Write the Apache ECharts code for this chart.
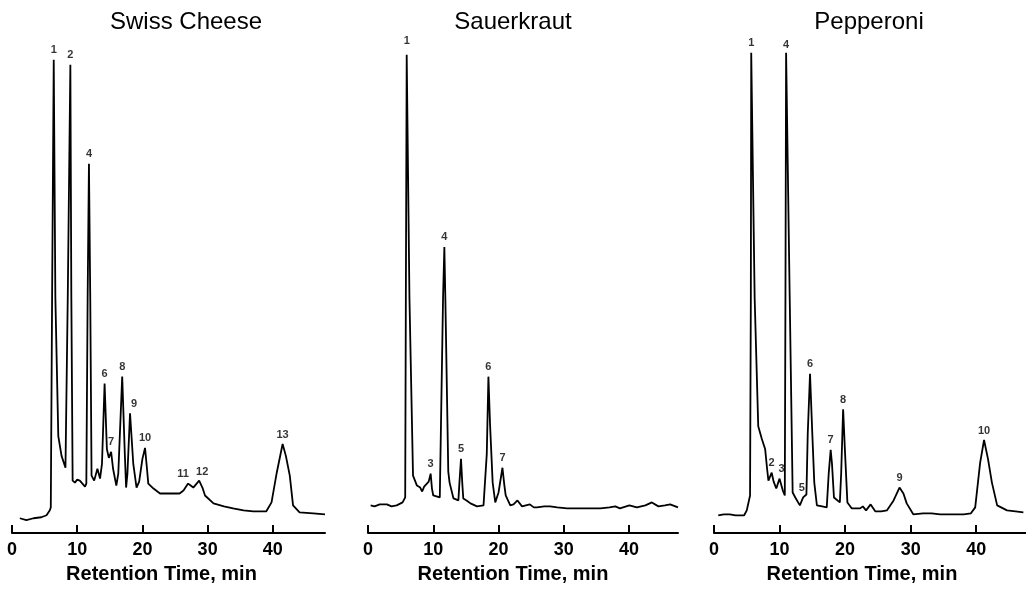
<!DOCTYPE html>
<html>
<head>
<meta charset="UTF-8">
<title>Chromatograms</title>
<script src="https://cdn.jsdelivr.net/npm/echarts@6/dist/echarts.min.js"></script>
<style>
body{
margin:0;
background:#fff;
}
#chart{
width:1026px;
height:589px;
}
</style>
</head>
<body>
<div id="chart"></div>
<script>

const titles = ["Swiss Cheese","Sauerkraut","Pepperoni"]

const xTicks = [0,10,20,30,40]

// [retention time (min), detector signal]
const swissTrace = [
 [1.2,15],[2.2,13],[3.3,15],[4.5,16],[5.3,18],[5.8,23],[5.95,26],[6.15,238],[6.4,478],[6.65,238],[7.1,98],[7.6,78],[8.2,66],
 [8.55,238],[8.95,473],[9.1,238],[9.3,53],[9.65,51],[10.0,54],[10.4,53],[10.8,50],[11.2,47],[11.4,50],[11.6,238],[11.8,373],
 [12.0,238],[12.2,58],[12.6,53],[13.1,65],[13.5,55],[13.8,70],[14.2,151],[14.55,85],[14.85,76],[15.2,82],[15.5,65],[16.0,48],
 [16.3,60],[16.9,158],[17.3,80],[17.5,46],[17.7,60],[18.1,121],[18.6,70],[19.1,46],[19.5,52],[20.0,75],[20.4,86],[20.7,65],
 [20.9,50],[21.7,45],[22.7,40],[24.0,40],[25.7,40],[26.3,43],[27.0,50],[27.4,48],[27.8,46],[28.7,53],[29.2,46],[29.6,38],
 [30.9,30],[32.5,27],[33.9,25],[35.5,23],[37.0,22],[39.0,22],[39.8,31],[40.6,61],[41.5,90],[42.0,78],[42.6,58],[43.1,28],
 [44.1,21],[46.2,20],[48.0,19]
]

const sauerTrace = [
 [0.4,28],[1.0,27],[1.8,29],[2.9,29],[3.6,27],[4.4,28],[5.3,31],[5.7,36],[5.8,238],[5.93,483],[6.35,238],[6.9,58],[7.5,48],
 [8.0,46],[8.3,42],[8.6,47],[8.9,47],[9.3,52],[9.6,60],[9.8,45],[10.0,38],[11.0,36],[11.3,38],[11.5,238],[11.7,289],[11.85,238],
 [12.3,62],[12.5,51],[13.1,35],[13.85,33],[14.0,50],[14.25,75],[14.45,50],[14.6,35],[15.1,33],[15.7,30],[16.7,27],[17.7,28],[17.9,30],
 [18.2,80],[18.45,158],[18.7,110],[19.1,51],[19.5,31],[20.0,41],[20.6,66],[20.9,48],[21.1,38],[21.8,28],[22.3,29],[22.9,33],
 [23.6,27],[24.2,28],[24.8,29],[25.4,26],[25.9,26],[27.0,27],[27.9,27],[29.0,26],[30.5,25],[33.0,25],[35.6,25],[37.0,26],
 [37.9,27],[38.6,25],[40.05,28],[41.2,26],[42.5,28],[43.5,31],[44.5,27],[45.5,28],[46.3,29],[47.5,26]
]

const pepTrace = [
 [0.65,18],[1.5,19],[2.4,19],[3.3,18],[4.2,18],[4.6,18],[5.0,23],[5.4,35],[5.5,38],[5.62,238],[5.68,485],[6.2,238],[6.75,108],
 [7.3,95],[7.8,85],[8.1,65],[8.3,53],[8.8,61],[9.1,52],[9.5,45],[10.0,55],[10.5,43],[10.8,38],[10.9,238],[11.0,485],[11.55,238],
 [12.0,41],[12.4,36],[13.1,28],[13.6,36],[14.1,39],[14.3,100],[14.65,161],[15.0,100],[15.3,51],[15.7,28],[16.5,27],[17.2,26],
 [17.5,60],[17.8,84],[18.0,70],[18.3,36],[19.2,31],[19.4,60],[19.7,125],[20.0,80],[20.35,31],[21.0,25],[22.3,25],[22.7,27],
 [23.2,23],[23.9,29],[24.6,22],[25.5,22],[26.4,23],[27.4,33],[28.3,46],[28.9,40],[29.4,30],[30.4,19],[31.9,20],[33.2,20],
 [34.5,19],[36.3,19],[38.1,19],[39.2,20],[39.85,26],[40.6,71],[41.2,94],[41.8,75],[42.4,51],[43.2,28],[44.7,23],[46.0,22],
 [47.2,21]
]

// [peak number, time, height]
const swissPeaks = [
 ["1",6.4,478],["2",8.95,473],["4",11.8,373],["6",14.2,151],["7",15.2,82],["8",16.9,158],
 ["9",18.1,121],["10",20.4,86],["11",27.0,50],["12",28.7,53],["13",41.5,90]
]
const sauerPeaks = [
 ["1",5.93,483],["3",9.6,60],["4",11.7,289],["5",14.25,75],["6",18.45,158],["7",20.6,66]
]
const pepPeaks = [
 ["1",5.68,485],["2",8.8,61],["3",10.0,55],["4",11.0,485],["5",13.4,36],["6",14.65,161],
 ["7",17.8,84],["8",19.7,125],["9",28.3,46],["10",41.2,94]
]

const traces = [swissTrace,sauerTrace,pepTrace]
const peaks = [swissPeaks,sauerPeaks,pepPeaks]

// layout of the three panels (nameShift moves the axis title left)
const panels = [
 {left:12,width:313,max:48,titleX:186,nameShift:7},
 {left:368,width:310,max:47.5,titleX:513,nameShift:10},
 {left:714,width:312,max:47.6,titleX:869,nameShift:8}
]

// a few labels sit off-centre in the original
const labelShift = {
 "0-9":[4,0],"0-11":[-5,0],"0-12":[3,1],
 "1-1":[0,-4],
 "2-3":[2,0],"2-4":[0,2]
}

const font = "Liberation Sans"

const chart = echarts.init(document.getElementById("chart"),null,{renderer:"canvas"})

const grid=[],xAxis=[],yAxis=[],series=[],graphic=[]

panels.forEach((p,i)=>{

 grid.push({left:p.left,width:p.width,top:40,bottom:51})

 xAxis.push({
  type:"value",
  gridIndex:i,
  min:0,
  max:p.max,
  interval:10,
  name:"Retention Time, min",
  nameLocation:"middle",
  nameGap:28,
  nameTextStyle:{
   fontFamily:font,fontSize:20,fontWeight:"bold",color:"#000",
   padding:[0,p.nameShift*2,0,0]
  },
  axisLine:{lineStyle:{color:"#000",width:2}},
  axisTick:{inside:true,length:8,lineStyle:{color:"#000",width:2}},
  axisLabel:{
   fontFamily:font,fontSize:18,fontWeight:"bold",color:"#000",margin:8,
   showMaxLabel:false,
   formatter:v=>xTicks.includes(v)?String(v):""
  },
  splitLine:{show:false}
 })

 yAxis.push({type:"value",gridIndex:i,min:0,max:498,show:false})

 series.push({
  type:"line",
  xAxisIndex:i,
  yAxisIndex:i,
  data:traces[i],
  symbol:"none",
  smooth:false,
  lineStyle:{color:"#000",width:1.8},
  z:2
 })

 series.push({
  type:"scatter",
  xAxisIndex:i,
  yAxisIndex:i,
  symbolSize:0,
  silent:true,
  data:peaks[i].map(pk=>({
   value:[pk[1],pk[2]],
   label:{offset:labelShift[i+"-"+pk[0]]||[0,0]}
  })),
  label:{
   show:true,
   position:"top",
   distance:4,
   fontFamily:font,
   fontSize:11,
   fontWeight:"bold",
   color:"#000",
   formatter:params=>peaks[i][params.dataIndex][0]
  },
  z:3
 })

 graphic.push({
  type:"text",
  x:p.titleX,
  y:22,
  style:{
   text:titles[i],
   font:"24px '"+font+"'",
   fill:"#000",
   textAlign:"center",
   textVerticalAlign:"middle"
  }
 })

})

chart.setOption({
 animation:false,
 backgroundColor:"#fff",
 grid,
 xAxis,
 yAxis,
 series,
 graphic
})

</script>
</body>
</html>
